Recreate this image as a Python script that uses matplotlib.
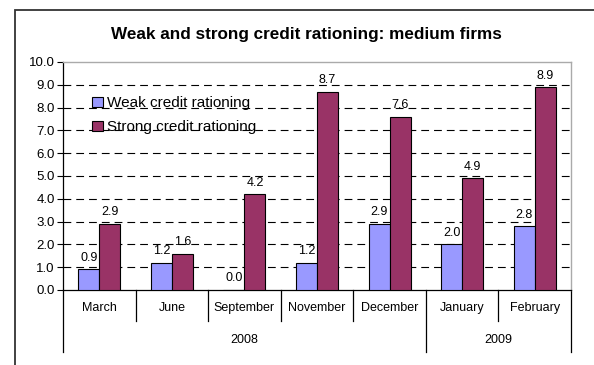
import matplotlib.pyplot as plt
import matplotlib.patches as patches
import numpy as np

plt.rcParams['font.family'] = ['Liberation Sans', 'DejaVu Sans']

months = ["March", "June", "September", "November", "December", "January", "February"]
years = ["2008", "2009"]
months_per_year = [5, 2]
weak = [0.9, 1.2, 0.0, 1.2, 2.9, 2.0, 2.8]
strong = [2.9, 1.6, 4.2, 8.7, 7.6, 4.9, 8.9]

W, H = 594, 365
fig = plt.figure(figsize=(W / 100, H / 100), dpi=100)

# outer chart frame (runs off the right and bottom edges)
fig.patches.append(patches.Rectangle((15 / W, -0.2), 1.2, 1.2 - 10 / H,
                                     transform=fig.transFigure, fill=False,
                                     edgecolor='#333333', linewidth=1.3))

ax = fig.add_axes([63 / W, 1 - 290 / H, (571 - 63) / W, (290 - 62) / H])

x = np.arange(len(months))
bw = 0.29
b1 = ax.bar(x - bw / 2, weak, bw, color='#9999FF', edgecolor='black', linewidth=0.8,
            label='Weak credit rationing', zorder=3)
b2 = ax.bar(x + bw / 2, strong, bw, color='#993366', edgecolor='black', linewidth=0.8,
            label='Strong credit rationing', zorder=3)

for bars, vals in ((b1, weak), (b2, strong)):
    for r, v in zip(bars, vals):
        ax.annotate(f"{v:.1f}", (r.get_x() + r.get_width() / 2, v),
                    xytext=(0, 4), textcoords='offset points',
                    ha='center', va='bottom', fontsize=9, zorder=4)

ax.set_xlim(-0.5, len(months) - 0.5)
ax.set_ylim(0, 10)
ax.set_yticks(np.arange(0, 10.5, 1))
ax.set_yticklabels([f"{v:.1f}" for v in np.arange(0, 10.5, 1)], fontsize=9.5)
ax.tick_params(axis='y', direction='out', length=4, width=0.8, pad=2)
ax.set_xticks([])

for y in range(1, 10):
    ax.axhline(y, color='black', linestyle=(0, (7, 4.5)), linewidth=0.8, zorder=1)

for s in ('top', 'right'):
    ax.spines[s].set_color('#aaaaaa')
    ax.spines[s].set_linewidth(1.0)
ax.spines['left'].set_linewidth(0.9)
ax.spines['bottom'].set_linewidth(0.9)

# two-level category axis
tr = ax.get_xaxis_transform()
row1 = -31 / 228
row2 = -62 / 228
year_edges = np.cumsum([0] + months_per_year) - 0.5
for b in np.arange(len(months) + 1) - 0.5:
    bottom = row2 if b in year_edges else row1
    ax.plot([b, b], [0, bottom], transform=tr, color='black', linewidth=0.9,
            clip_on=False)
for i, m in enumerate(months):
    ax.text(i, -18 / 228, m, transform=tr, ha='center', va='center', fontsize=9)
for j, yr in enumerate(years):
    c = (year_edges[j] + year_edges[j + 1]) / 2
    ax.text(c, -50 / 228, yr, transform=tr, ha='center', va='center', fontsize=9)

ax.legend(loc='upper left', bbox_to_anchor=(0.03, 0.91), frameon=False, fontsize=11,
          handlelength=0.7, handleheight=0.7, handletextpad=0.3, labelspacing=0.65)

fig.text(306 / W, 1 - 35 / H, "Weak and strong credit rationing: medium firms",
         ha='center', va='center', fontsize=12.3, fontweight='bold')

fig.savefig('out.png', dpi=100)
